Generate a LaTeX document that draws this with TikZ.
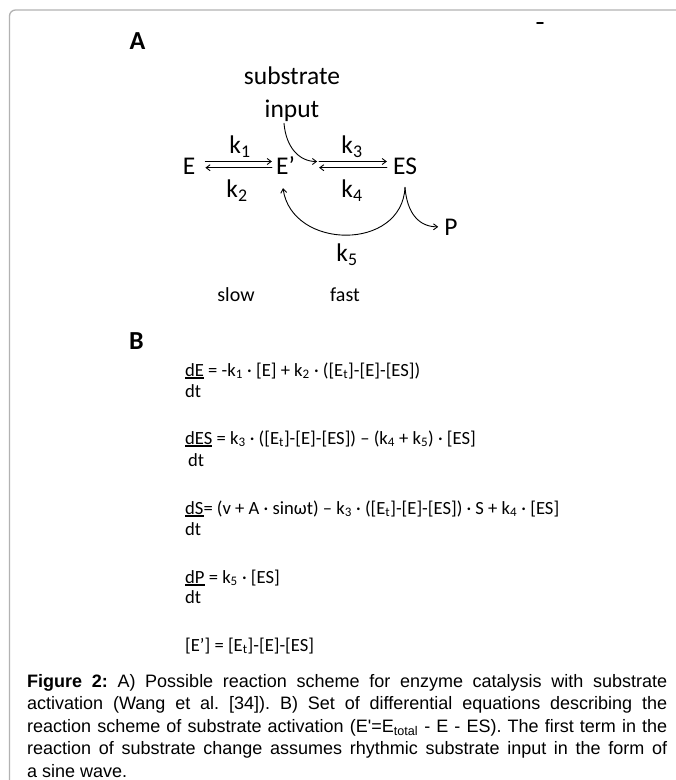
\documentclass[tikz,border=0pt]{standalone}
\usepackage{fontspec}
\setmainfont{Carlito}
\newfontfamily\capfont{Liberation Sans}
\usetikzlibrary{arrows.meta}

% underlined numerator of a derivative
\newcommand\numer[1]{\setbox0\hbox{#1}\rlap{\rule[-2.6pt]{\wd0}{2pt}}\box0\relax}
\newcommand\lowsub[1]{\textsubscript{#1}}

\tikzset{
  species/.style={inner sep=0pt, font=\fontsize{25.5}{33}\selectfont},
  rate/.style={inner sep=0pt, font=\fontsize{25.5}{30}\selectfont},
  note/.style={inner sep=0pt, font=\fontsize{20}{24}\selectfont},
  panel/.style={inner sep=0pt, font=\fontsize{26}{30}\selectfont\bfseries},
  eqn/.style={anchor=base west, inner sep=0pt, font=\fontsize{18.6}{21}\selectfont},
  rxn/.style={-{Straight Barb[length=4pt,width=6pt]}, line width=0.9pt},
}

\begin{document}
\begin{tikzpicture}[x=1pt,y=-1pt,line join=round,line cap=round]
  \useasboundingbox (0,0) rectangle (676,780);
  \draw[black!30, line width=1.3pt, rounded corners=6pt] (9.5,780) -- (9.5,10) -- (676,10);
  \draw[line width=1.6pt] (537,23) -- (543,23);

  % panel A: reaction scheme
  \node[panel] (A) at (137.5,41.5) {A};
  \node[species, align=center, anchor=base] (sub) at (292,117) {substrate\\input};
  \node[species, anchor=base] (E) at (189,174) {E};
  \node[species, anchor=base] (Ep) at (285.5,174) {E’};
  \node[species, anchor=base] (ES) at (405,174) {ES};
  \node[species, anchor=base] (P) at (451,235) {P};

  \draw[rxn] ([xshift=10pt,yshift=12.5pt]E.base east) -- ([xshift=-4pt,yshift=12.5pt]Ep.base west);
  \draw[rxn] ([xshift=-4pt,yshift=6.3pt]Ep.base west) -- ([xshift=10pt,yshift=6.3pt]E.base east);
  \coordinate (j) at ([xshift=24pt,yshift=12.5pt]Ep.base east);
  \draw[rxn] (j) -- ([xshift=-6pt,yshift=12.5pt]ES.base west);
  \draw[rxn] ([xshift=-6pt,yshift=6.3pt]ES.base west) -- ([xshift=24pt,yshift=6.3pt]Ep.base east);
  \draw[rxn] ([xshift=-8pt,yshift=-2pt]sub.south) .. controls +(2,24) and +(-18,0) .. ([xshift=-2pt]j);
  \draw[rxn] ([yshift=-13pt]ES.south) .. controls +(-3,64) and +(9,62) .. ([xshift=-2.5pt,yshift=-14pt]Ep.south);
  \draw[rxn] ([yshift=-13pt]ES.south) .. controls +(2,25) and +(-20,0) .. ([xshift=-6pt]P.west);

  \node[rate] (k1) at (240,147) {k\lowsub{1}};
  \node[rate] (k2) at (237,191) {k\lowsub{2}};
  \node[rate] (k3) at (352,147) {k\lowsub{3}};
  \node[rate] (k4) at (352,191) {k\lowsub{4}};
  \node[rate] (k5) at (347,255) {k\lowsub{5}};
  \node[note] (slow) at (236,295) {slow};
  \node[note] (fast) at (345,295) {fast};

  % panel B: rate equations
  \node[panel] (B) at (136.5,341.5) {B};
  \node[eqn] (eq1) at (185,376) {\numer{dE} = -k\lowsub{1} · [E] + k\lowsub{2} · ([E\lowsub{t}]-[E]-[ES])};
  \node[eqn] (dt1) at (185,397) {dt};
  \node[eqn] (eq2) at (185,444) {\numer{dES} = k\lowsub{3} · ([E\lowsub{t}]-[E]-[ES]) – (k\lowsub{4} + k\lowsub{5}) · [ES]};
  \node[eqn] (dt2) at (188,466) {dt};
  \node[eqn] (eq3) at (185,514) {\numer{dS}= (v + A · sinωt) – k\lowsub{3} · ([E\lowsub{t}]-[E]-[ES]) · S + k\lowsub{4} · [ES]};
  \node[eqn] (dt3) at (185,535) {dt};
  \node[eqn] (eq4) at (185,583) {\numer{dP} = k\lowsub{5} · [ES]};
  \node[eqn] (dt4) at (185,603) {dt};
  \node[eqn] (eq5) at (185,651) {[E’] = [E\lowsub{t}]-[E]-[ES]};

  % caption
  \node[anchor=base west, inner sep=0pt, text width=640pt, align=justify,
        font=\capfont\fontsize{18}{22.4}\selectfont] (cap) at (27,687.5)
    {\tolerance=10000\hyphenpenalty=10000\frenchspacing
     \textbf{Figure 2:} A) Possible reaction scheme for enzyme catalysis with substrate\linebreak
     activation (Wang et al. [34]). B) Set of differential equations describing the\linebreak
     reaction scheme of substrate activation (E'=E\lowsub{total} - E - ES). The first term in the\linebreak
     reaction of substrate change assumes rhythmic substrate input in the form of\linebreak
     a sine wave.};
\end{tikzpicture}
\end{document}
